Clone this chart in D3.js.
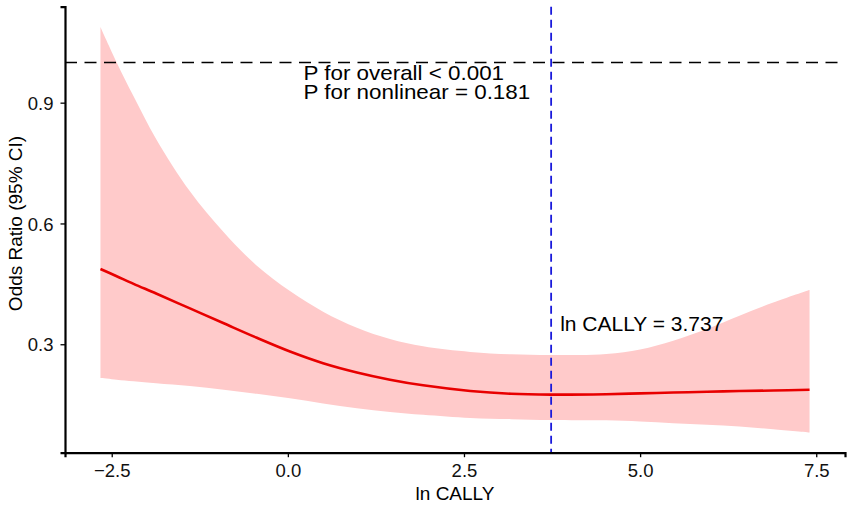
<!DOCTYPE html>
<html>
<head>
<meta charset="utf-8">
<script src="https://cdn.jsdelivr.net/npm/d3@7"></script>
<style>
  body { margin: 0; background: #fff; }
  text { font-family: "Liberation Sans", Arial, Helvetica, sans-serif; }
</style>
</head>
<body>
<svg width="851" height="507"></svg>
<script>
// values
var lnCally = [-2.66, -2.43, -2.19, -1.87, -1.39, -0.91, -0.44, 0.03, 0.50, 0.98, 1.45, 1.92, 2.59, 3.17, 3.737, 4.52, 5.0, 5.47, 5.95, 6.41, 6.89, 7.405]
var orEst  = [0.487, 0.469, 0.450, 0.426, 0.389, 0.352, 0.316, 0.282, 0.253, 0.230, 0.212, 0.198, 0.184, 0.177, 0.175, 0.176, 0.178, 0.180, 0.182, 0.184, 0.185, 0.187]
var orLow  = [0.216, 0.212, 0.208, 0.203, 0.196, 0.187, 0.177, 0.166, 0.153, 0.141, 0.132, 0.125, 0.117, 0.114, 0.112, 0.111, 0.108, 0.104, 0.100, 0.096, 0.089, 0.081]
var orHigh = [1.088, 1.000, 0.916, 0.810, 0.680, 0.578, 0.495, 0.432, 0.381, 0.341, 0.313, 0.295, 0.281, 0.275, 0.273, 0.276, 0.287, 0.309, 0.338, 0.371, 0.404, 0.435]
var xTicks = [-2.5, 0.0, 2.5, 5.0, 7.5]
var yTicks = [0.3, 0.6, 0.9]
var refOR = 1
var cutoff = 3.737
var annot = ["P for overall < 0.001", "P for nonlinear = 0.181"]

var rows = lnCally.map(function(x, i) {
    return {x: x, y: orEst[i], lo: orLow[i], hi: orHigh[i]}
})

var svg = d3.select('svg')
var pLeft = 65, pRight = 845, pTop = 6.7, pBottom = 452.7

// ggplot style 5% expansion
function expand(ext) {
    var r = ext[1] - ext[0]
    return [ext[0] - r * 0.05, ext[1] + r * 0.05]
}
var xScale = d3.scaleLinear().domain(expand(d3.extent(lnCally))).range([pLeft, pRight])
var yScale = d3.scaleLinear().domain(expand([d3.min(orLow), d3.max(orHigh)])).range([pBottom, pTop])

var curve = d3.curveCatmullRom.alpha(0.5)

// ribbon
var area = d3.area()
    .x(function(d) { return xScale(d.x) })
    .y0(function(d) { return yScale(d.lo) })
    .y1(function(d) { return yScale(d.hi) })
    .curve(curve)
svg.append("path")
    .datum(rows)
    .attr("d", area)
    .attr("fill", "#ffcaca")

// reference line OR = 1
svg.append("line")
    .attr("x1", pLeft).attr("x2", pRight)
    .attr("y1", yScale(refOR)).attr("y2", yScale(refOR))
    .attr("stroke", "#000")
    .attr("stroke-width", 1.5)
    .attr("stroke-dasharray", "12,7.5")

// estimate line
var line = d3.line()
    .x(function(d) { return xScale(d.x) })
    .y(function(d) { return yScale(d.y) })
    .curve(curve)
svg.append("path")
    .datum(rows)
    .attr("d", line)
    .attr("fill", "none")
    .attr("stroke", "#e80000")
    .attr("stroke-width", 2.6)

// cutoff vertical line
svg.append("line")
    .attr("x1", xScale(cutoff)).attr("x2", xScale(cutoff))
    .attr("y1", pTop).attr("y2", pBottom)
    .attr("stroke", "#1a1adb")
    .attr("stroke-width", 1.8)
    .attr("stroke-dasharray", "8,5")

// axes
var xAxis = svg.append("g")
    .attr("transform", "translate(0," + pBottom + ")")
    .call(d3.axisBottom(xScale).tickValues(xTicks).tickFormat(d3.format(".1f")).tickSizeOuter(0).tickSize(4.5).tickPadding(6))
var yAxis = svg.append("g")
    .attr("transform", "translate(" + pLeft + ",0)")
    .call(d3.axisLeft(yScale).tickValues(yTicks).tickFormat(d3.format(".1f")).tickSizeOuter(0).tickSize(4.5).tickPadding(6))

;[xAxis, yAxis].forEach(function(a) {
    a.attr("font-size", 18.5).attr("font-family", "'Liberation Sans', Arial, sans-serif")
    a.select(".domain").attr("stroke", "#000").attr("stroke-width", 2.2)
    a.selectAll(".tick line").attr("stroke", "#000").attr("stroke-width", 1.3)
    a.selectAll(".tick text").attr("fill", "#111")
})
xAxis.selectAll(".tick text").attr("dy", null).attr("y", 24)
yAxis.selectAll(".tick text").attr("dy", "0.36em").attr("x", -11.5)

// axis titles
svg.append("text")
    .attr("x", (pLeft + pRight) / 2)
    .attr("y", 500)
    .attr("text-anchor", "middle")
    .style("font-size", "19px")
    .attr("fill", "#000")
    .text("ln CALLY")
svg.append("text")
    .attr("transform", "translate(21.5," + 223.5 + ") rotate(-90)")
    .attr("text-anchor", "middle")
    .style("font-size", "19px")
    .attr("fill", "#000")
    .text("Odds Ratio (95% CI)")

// annotations
var ann = svg.append("g").attr("transform", "translate(303.5,0) scale(1.12,1)")
annot.forEach(function(t, i) {
    ann.append("text")
        .attr("x", 0)
        .attr("y", 80 + i * 19)
        .style("font-size", "20px")
        .attr("fill", "#000")
        .text(t)
})
svg.append("text")
    .attr("x", xScale(cutoff) + 9)
    .attr("y", 331)
    .style("font-size", "21px")
    .attr("fill", "#000")
    .text("ln CALLY = " + cutoff)
</script>
</body>
</html>
